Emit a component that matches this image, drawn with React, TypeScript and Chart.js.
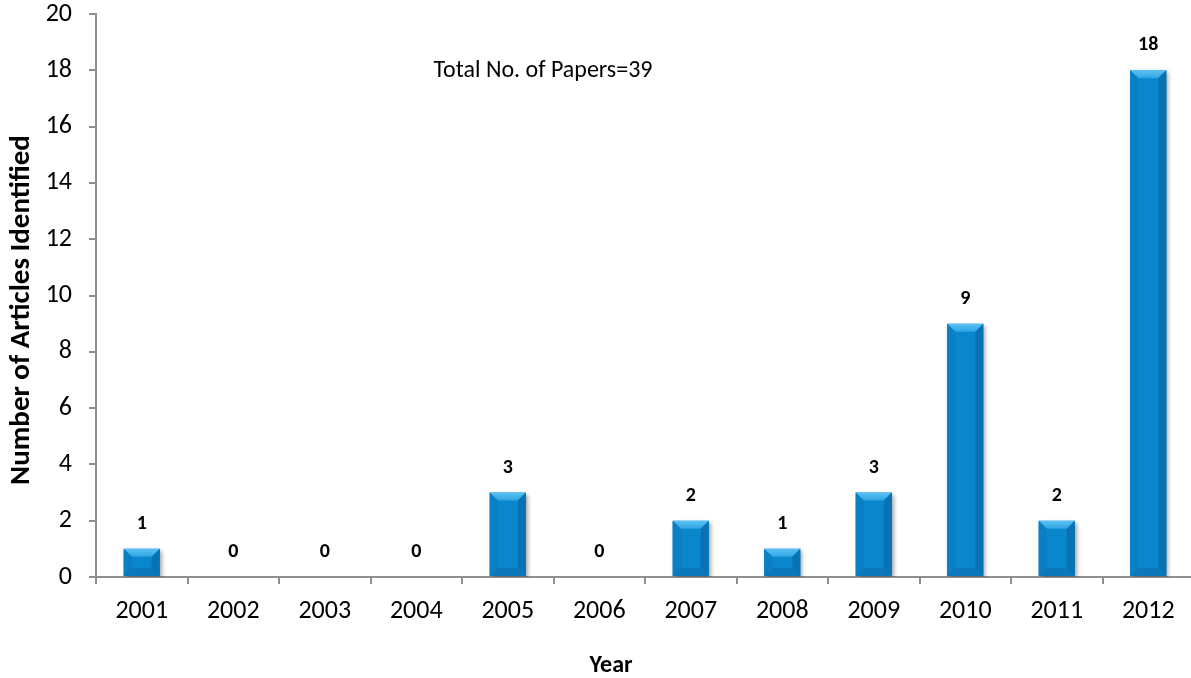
import React, { useEffect, useRef } from "react";
import { Chart, registerables } from "chart.js";

Chart.register(...registerables);

const years = ["2001", "2002", "2003", "2004", "2005", "2006", "2007", "2008", "2009", "2010", "2011", "2012"];
const articleCounts = [1, 0, 0, 0, 3, 0, 2, 1, 3, 9, 2, 18];
const yTicks = [0, 2, 4, 6, 8, 10, 12, 14, 16, 18, 20];
const totalLabel = "Total No. of Papers=39";
const yTitle = "Number of Articles Identified";
const xTitle = "Year";

const FONT = "Carlito, Lato, 'Open Sans', sans-serif";
const AXIS_GREY = "#8f8f8f";

// Drop shadow behind the bars
const barShadow = {
  id: "barShadow",
  beforeDatasetDraw(chart: any) {
    const ctx = chart.ctx;
    ctx.save();
    ctx.shadowColor = "rgba(0,0,0,0.35)";
    ctx.shadowBlur = 4;
    ctx.shadowOffsetX = 2;
    ctx.shadowOffsetY = 2;
  },
  afterDatasetDraw(chart: any) {
    chart.ctx.restore();
  },
};

// Bevelled faces on each bar plus value labels and text annotations
const bevelAndLabels = {
  id: "bevelAndLabels",
  afterDatasetsDraw(chart: any) {
    const ctx = chart.ctx;
    const meta = chart.getDatasetMeta(0);
    meta.data.forEach((bar: any, i: number) => {
      const { x, y, base, width } = bar.getProps(["x", "y", "base", "width"], true);
      const x0 = x - width / 2;
      const x1 = x + width / 2;
      const h = base - y;
      if (h > 0.5) {
        const b = Math.min(8, h / 2, width / 2);
        ctx.save();
        // top face
        const g = ctx.createLinearGradient(0, y, 0, y + b);
        g.addColorStop(0, "#5cc2f5");
        g.addColorStop(1, "#2ea3e3");
        ctx.fillStyle = g;
        ctx.beginPath();
        ctx.moveTo(x0, y);
        ctx.lineTo(x1, y);
        ctx.lineTo(x1 - b, y + b);
        ctx.lineTo(x0 + b, y + b);
        ctx.closePath();
        ctx.fill();
        // left face
        ctx.fillStyle = "#0b7fc3";
        ctx.beginPath();
        ctx.moveTo(x0, y);
        ctx.lineTo(x0 + b, y + b);
        ctx.lineTo(x0 + b, base - b);
        ctx.lineTo(x0, base);
        ctx.closePath();
        ctx.fill();
        // right face
        ctx.fillStyle = "#0872b2";
        ctx.beginPath();
        ctx.moveTo(x1, y);
        ctx.lineTo(x1 - b, y + b);
        ctx.lineTo(x1 - b, base - b);
        ctx.lineTo(x1, base);
        ctx.closePath();
        ctx.fill();
        // bottom face
        ctx.fillStyle = "#0a78ba";
        ctx.beginPath();
        ctx.moveTo(x0, base);
        ctx.lineTo(x0 + b, base - b);
        ctx.lineTo(x1 - b, base - b);
        ctx.lineTo(x1, base);
        ctx.closePath();
        ctx.fill();
        ctx.restore();
      }
      ctx.save();
      ctx.fillStyle = "#000";
      ctx.font = `bold 20px ${FONT}`;
      ctx.textAlign = "center";
      ctx.textBaseline = "middle";
      ctx.fillText(String(articleCounts[i]), x, y - 25);
      ctx.restore();
    });

    ctx.save();
    ctx.fillStyle = "#000";
    ctx.textAlign = "center";
    ctx.textBaseline = "middle";
    ctx.font = `24px ${FONT}`;
    ctx.fillText(totalLabel, 543, 71);
    ctx.font = `bold 24px ${FONT}`;
    ctx.fillText(xTitle, 611, 666);
    ctx.translate(22, 310);
    ctx.rotate(-Math.PI / 2);
    ctx.font = `bold 29px ${FONT}`;
    ctx.fillText(yTitle, 0, 0);
    ctx.restore();
  },
};

export default function App() {
  const canvasRef = useRef<HTMLCanvasElement | null>(null);

  useEffect(() => {
    if (!canvasRef.current) return;
    const chart = new Chart(canvasRef.current, {
      type: "bar",
      data: {
        labels: years,
        datasets: [
          {
            data: articleCounts,
            backgroundColor: "#0a86cd",
            borderWidth: 0,
            barPercentage: 0.395,
            categoryPercentage: 1,
          },
        ],
      },
      options: {
        animation: false,
        responsive: false,
        maintainAspectRatio: false,
        layout: { padding: 0 },
        plugins: {
          legend: { display: false },
          tooltip: { enabled: false },
        },
        scales: {
          x: {
            afterFit(scale: any) {
              scale.height = 101;
              scale.paddingLeft = 0;
              scale.paddingRight = 0;
            },
            grid: {
              display: true,
              drawOnChartArea: false,
              drawTicks: true,
              tickLength: 7,
              color: AXIS_GREY,
              lineWidth: 2,
              offset: true,
            },
            border: { display: true, color: AXIS_GREY, width: 2 },
            ticks: {
              color: "#000",
              font: { family: FONT, size: 26 },
              padding: 12,
              maxRotation: 0,
            },
          },
          y: {
            min: 0,
            max: 20,
            afterFit(scale: any) {
              scale.width = 96;
              scale.paddingTop = 14;
              scale.paddingBottom = 0;
            },
            afterBuildTicks(scale: any) {
              scale.ticks = yTicks.map((v) => ({ value: v }));
            },
            grid: {
              display: true,
              drawOnChartArea: false,
              drawTicks: true,
              tickLength: 7,
              color: AXIS_GREY,
              lineWidth: 2,
            },
            border: { display: true, color: AXIS_GREY, width: 2 },
            ticks: {
              color: "#000",
              font: { family: FONT, size: 26 },
              padding: 17,
            },
          },
        },
      },
      plugins: [barShadow, bevelAndLabels],
    });
    return () => chart.destroy();
  }, []);

  return (
    <div style={{ position: "fixed", left: 0, top: 0, width: 1191, height: 678, overflow: "hidden", background: "#fff" }}>
      <canvas ref={canvasRef} width={1194} height={678} style={{ width: 1194, height: 678, display: "block" }} />
    </div>
  );
}
